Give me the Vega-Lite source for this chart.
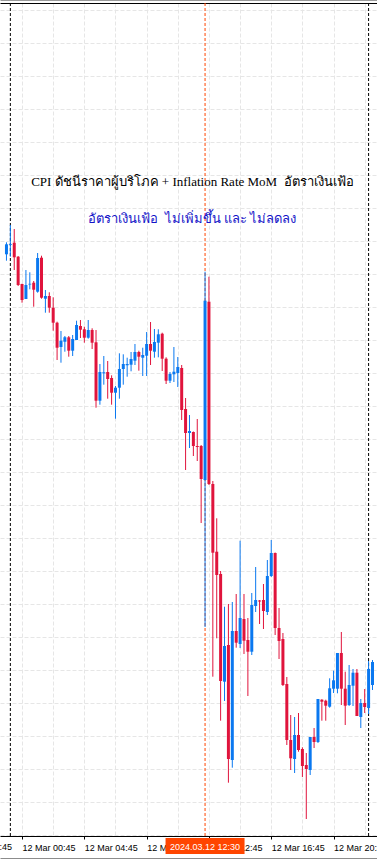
{
  "$schema": "https://vega.github.io/schema/vega-lite/v6.json",
  "width": 377,
  "height": 833,
  "autosize": {"type": "none"},
  "padding": {"left": 0, "right": 0, "top": 3, "bottom": 27},
  "background": "#ffffff",
  "config": {"view": {"stroke": null}},
  "datasets": {
    "bars": [
      {"t": "2024-03-11T23:45Z", "o": 2174.57, "h": 2175.77, "l": 2173.93, "c": 2175.57},
      {"t": "2024-03-12T00:00Z", "o": 2175.52, "h": 2177.5, "l": 2174.33, "c": 2175.6},
      {"t": "2024-03-12T00:15Z", "o": 2175.73, "h": 2177.1, "l": 2173.0, "c": 2174.27},
      {"t": "2024-03-12T00:30Z", "o": 2174.33, "h": 2174.4, "l": 2171.4, "c": 2171.5},
      {"t": "2024-03-12T00:45Z", "o": 2171.6, "h": 2171.63, "l": 2169.73, "c": 2170.0},
      {"t": "2024-03-12T01:00Z", "o": 2170.1, "h": 2173.0, "l": 2170.1, "c": 2171.5},
      {"t": "2024-03-12T01:15Z", "o": 2171.55, "h": 2172.77, "l": 2171.07, "c": 2171.62},
      {"t": "2024-03-12T01:30Z", "o": 2171.73, "h": 2171.9, "l": 2169.33, "c": 2171.03},
      {"t": "2024-03-12T01:45Z", "o": 2170.83, "h": 2174.7, "l": 2170.73, "c": 2174.2},
      {"t": "2024-03-12T02:00Z", "o": 2174.23, "h": 2174.43, "l": 2170.13, "c": 2170.23},
      {"t": "2024-03-12T02:15Z", "o": 2170.13, "h": 2171.0, "l": 2168.73, "c": 2170.4},
      {"t": "2024-03-12T02:30Z", "o": 2170.4, "h": 2170.77, "l": 2168.73, "c": 2169.23},
      {"t": "2024-03-12T02:45Z", "o": 2169.23, "h": 2170.27, "l": 2166.93, "c": 2167.73},
      {"t": "2024-03-12T03:00Z", "o": 2167.73, "h": 2167.83, "l": 2164.0, "c": 2165.23},
      {"t": "2024-03-12T03:15Z", "o": 2165.3, "h": 2166.9, "l": 2163.73, "c": 2165.93},
      {"t": "2024-03-12T03:30Z", "o": 2165.83, "h": 2166.4, "l": 2164.83, "c": 2166.27},
      {"t": "2024-03-12T03:45Z", "o": 2166.27, "h": 2166.4, "l": 2164.33, "c": 2164.93},
      {"t": "2024-03-12T04:00Z", "o": 2164.93, "h": 2166.5, "l": 2164.4, "c": 2166.1},
      {"t": "2024-03-12T04:15Z", "o": 2166.0, "h": 2167.93, "l": 2166.0, "c": 2167.5},
      {"t": "2024-03-12T04:30Z", "o": 2167.4, "h": 2168.0, "l": 2166.2, "c": 2167.03},
      {"t": "2024-03-12T04:45Z", "o": 2167.07, "h": 2167.33, "l": 2165.73, "c": 2166.23},
      {"t": "2024-03-12T05:00Z", "o": 2166.23, "h": 2168.0, "l": 2166.13, "c": 2167.0},
      {"t": "2024-03-12T05:15Z", "o": 2167.0, "h": 2167.17, "l": 2165.1, "c": 2165.73},
      {"t": "2024-03-12T05:30Z", "o": 2165.77, "h": 2167.0, "l": 2159.23, "c": 2159.93},
      {"t": "2024-03-12T05:45Z", "o": 2159.93, "h": 2163.6, "l": 2159.53, "c": 2162.8},
      {"t": "2024-03-12T06:00Z", "o": 2162.67, "h": 2164.4, "l": 2161.53, "c": 2162.77},
      {"t": "2024-03-12T06:15Z", "o": 2162.8, "h": 2163.9, "l": 2160.13, "c": 2162.1},
      {"t": "2024-03-12T06:30Z", "o": 2162.2, "h": 2162.47, "l": 2159.53, "c": 2160.73},
      {"t": "2024-03-12T06:45Z", "o": 2160.73, "h": 2161.4, "l": 2158.13, "c": 2161.23},
      {"t": "2024-03-12T07:00Z", "o": 2161.23, "h": 2164.67, "l": 2160.13, "c": 2163.1},
      {"t": "2024-03-12T07:15Z", "o": 2163.1, "h": 2164.57, "l": 2161.53, "c": 2163.6},
      {"t": "2024-03-12T07:30Z", "o": 2163.47, "h": 2164.23, "l": 2162.33, "c": 2163.6},
      {"t": "2024-03-12T07:45Z", "o": 2163.53, "h": 2164.8, "l": 2162.87, "c": 2164.1},
      {"t": "2024-03-12T08:00Z", "o": 2163.93, "h": 2165.6, "l": 2163.5, "c": 2164.8},
      {"t": "2024-03-12T08:15Z", "o": 2164.8, "h": 2164.93, "l": 2162.93, "c": 2164.33},
      {"t": "2024-03-12T08:30Z", "o": 2164.23, "h": 2165.23, "l": 2162.4, "c": 2164.5},
      {"t": "2024-03-12T08:45Z", "o": 2164.43, "h": 2166.8, "l": 2162.4, "c": 2165.6},
      {"t": "2024-03-12T09:00Z", "o": 2165.6, "h": 2167.8, "l": 2163.5, "c": 2164.93},
      {"t": "2024-03-12T09:15Z", "o": 2164.83, "h": 2167.1, "l": 2164.23, "c": 2165.8},
      {"t": "2024-03-12T09:30Z", "o": 2165.73, "h": 2167.07, "l": 2164.27, "c": 2166.57},
      {"t": "2024-03-12T09:45Z", "o": 2166.63, "h": 2166.73, "l": 2162.9, "c": 2164.13},
      {"t": "2024-03-12T10:00Z", "o": 2164.13, "h": 2164.27, "l": 2161.6, "c": 2161.93},
      {"t": "2024-03-12T10:15Z", "o": 2161.93, "h": 2162.8, "l": 2161.7, "c": 2162.6},
      {"t": "2024-03-12T10:30Z", "o": 2162.57, "h": 2165.3, "l": 2161.8, "c": 2162.83},
      {"t": "2024-03-12T10:45Z", "o": 2162.7, "h": 2164.3, "l": 2161.3, "c": 2163.3},
      {"t": "2024-03-12T11:00Z", "o": 2163.2, "h": 2163.5, "l": 2158.0, "c": 2159.0},
      {"t": "2024-03-12T11:15Z", "o": 2159.1, "h": 2160.2, "l": 2153.0, "c": 2156.7},
      {"t": "2024-03-12T11:30Z", "o": 2156.7, "h": 2158.5, "l": 2155.2, "c": 2156.9},
      {"t": "2024-03-12T11:45Z", "o": 2156.8, "h": 2156.85, "l": 2154.4, "c": 2155.4},
      {"t": "2024-03-12T12:00Z", "o": 2155.4, "h": 2158.1, "l": 2153.9, "c": 2155.3},
      {"t": "2024-03-12T12:15Z", "o": 2155.4, "h": 2155.5, "l": 2147.7, "c": 2152.1},
      {"t": "2024-03-12T12:30Z", "o": 2152.0, "h": 2172.83, "l": 2137.3, "c": 2169.93},
      {"t": "2024-03-12T12:45Z", "o": 2169.83, "h": 2172.33, "l": 2151.5, "c": 2151.6},
      {"t": "2024-03-12T13:00Z", "o": 2151.6, "h": 2151.9, "l": 2132.33, "c": 2144.73},
      {"t": "2024-03-12T13:15Z", "o": 2144.83, "h": 2148.17, "l": 2136.17, "c": 2142.5},
      {"t": "2024-03-12T13:30Z", "o": 2142.6, "h": 2142.9, "l": 2127.93, "c": 2131.9},
      {"t": "2024-03-12T13:45Z", "o": 2131.83, "h": 2139.33, "l": 2129.9, "c": 2135.4},
      {"t": "2024-03-12T14:00Z", "o": 2135.5, "h": 2139.6, "l": 2121.73, "c": 2124.1},
      {"t": "2024-03-12T14:15Z", "o": 2124.0, "h": 2139.8, "l": 2123.23, "c": 2136.9},
      {"t": "2024-03-12T14:30Z", "o": 2136.9, "h": 2140.6, "l": 2135.23, "c": 2135.73},
      {"t": "2024-03-12T14:45Z", "o": 2135.6, "h": 2145.93, "l": 2135.2, "c": 2138.2},
      {"t": "2024-03-12T15:00Z", "o": 2138.1, "h": 2140.6, "l": 2134.6, "c": 2135.93},
      {"t": "2024-03-12T15:15Z", "o": 2136.0, "h": 2138.2, "l": 2130.4, "c": 2134.83},
      {"t": "2024-03-12T15:30Z", "o": 2134.83, "h": 2140.7, "l": 2134.5, "c": 2139.5},
      {"t": "2024-03-12T15:45Z", "o": 2139.4, "h": 2143.3, "l": 2138.8, "c": 2140.0},
      {"t": "2024-03-12T16:00Z", "o": 2139.95, "h": 2140.0, "l": 2137.6, "c": 2139.85},
      {"t": "2024-03-12T16:15Z", "o": 2140.0, "h": 2141.6, "l": 2137.1, "c": 2138.9},
      {"t": "2024-03-12T16:30Z", "o": 2138.8, "h": 2144.0, "l": 2138.5, "c": 2142.4},
      {"t": "2024-03-12T16:45Z", "o": 2142.4, "h": 2146.0, "l": 2142.3, "c": 2144.7},
      {"t": "2024-03-12T17:00Z", "o": 2144.7, "h": 2144.75, "l": 2136.5, "c": 2137.2},
      {"t": "2024-03-12T17:15Z", "o": 2137.2, "h": 2139.2, "l": 2134.1, "c": 2135.9},
      {"t": "2024-03-12T17:30Z", "o": 2136.1, "h": 2136.7, "l": 2131.4, "c": 2131.5},
      {"t": "2024-03-12T17:45Z", "o": 2131.6, "h": 2132.3, "l": 2125.5, "c": 2126.0},
      {"t": "2024-03-12T18:00Z", "o": 2126.0, "h": 2128.5, "l": 2123.0, "c": 2124.17},
      {"t": "2024-03-12T18:15Z", "o": 2124.1, "h": 2128.3, "l": 2122.7, "c": 2126.5},
      {"t": "2024-03-12T18:30Z", "o": 2126.5, "h": 2128.7, "l": 2124.83, "c": 2125.0},
      {"t": "2024-03-12T18:45Z", "o": 2125.1, "h": 2125.27, "l": 2122.3, "c": 2123.4},
      {"t": "2024-03-12T19:00Z", "o": 2123.5, "h": 2124.7, "l": 2118.1, "c": 2123.1},
      {"t": "2024-03-12T19:15Z", "o": 2123.0, "h": 2126.3, "l": 2122.5, "c": 2126.3},
      {"t": "2024-03-12T19:30Z", "o": 2126.3, "h": 2127.2, "l": 2125.2, "c": 2125.8},
      {"t": "2024-03-12T19:45Z", "o": 2125.8, "h": 2130.1, "l": 2125.7, "c": 2130.1},
      {"t": "2024-03-12T20:00Z", "o": 2130.03, "h": 2130.08, "l": 2127.93, "c": 2129.83},
      {"t": "2024-03-12T20:15Z", "o": 2129.93, "h": 2130.03, "l": 2127.93, "c": 2129.43},
      {"t": "2024-03-12T20:30Z", "o": 2129.33, "h": 2132.17, "l": 2129.23, "c": 2131.17},
      {"t": "2024-03-12T20:45Z", "o": 2131.13, "h": 2132.93, "l": 2130.7, "c": 2131.97},
      {"t": "2024-03-12T21:00Z", "o": 2131.13, "h": 2134.7, "l": 2130.67, "c": 2134.7},
      {"t": "2024-03-12T21:15Z", "o": 2134.7, "h": 2136.8, "l": 2129.5, "c": 2131.13},
      {"t": "2024-03-12T21:30Z", "o": 2131.13, "h": 2132.83, "l": 2127.5, "c": 2129.43},
      {"t": "2024-03-12T21:45Z", "o": 2129.5, "h": 2133.5, "l": 2129.4, "c": 2131.5},
      {"t": "2024-03-12T22:00Z", "o": 2131.43, "h": 2133.1, "l": 2129.4, "c": 2132.73},
      {"t": "2024-03-12T22:15Z", "o": 2132.73, "h": 2133.1, "l": 2128.4, "c": 2128.4},
      {"t": "2024-03-12T22:30Z", "o": 2128.3, "h": 2130.1, "l": 2127.2, "c": 2129.7},
      {"t": "2024-03-12T22:45Z", "o": 2129.7, "h": 2131.1, "l": 2128.7, "c": 2129.3},
      {"t": "2024-03-12T23:00Z", "o": 2129.2, "h": 2133.9, "l": 2128.6, "c": 2133.1},
      {"t": "2024-03-12T23:15Z", "o": 2131.5, "h": 2134.0, "l": 2131.0, "c": 2133.8}
    ],
    "separators": [
      {"t": "2024-03-12T00:00Z"},
      {"t": "2024-03-12T23:00Z"}
    ],
    "event": [
      {"t": "2024-03-12T12:30Z", "label": "2024.03.12 12:30", "top": 2116.2, "bottom": 2114.6, "mid": 2115.35}
    ],
    "prevlabel": [
      {"t": "2024-03-11T20:45Z", "label": "11 Mar 20:45", "mid": 2115.3}
    ],
    "notes": [
      {"t": "2024-03-12T11:41:15Z", "p": 2181.4, "text": "CPI ดัชนีราคาผู้บริโภค + Inflation Rate MoM\u00a0 อัตราเงินเฟ้อ"},
      {"t": "2024-03-12T11:41:15Z", "p": 2177.7, "text": "อัตราเงินเฟ้อ\u00a0 ไม่เพิ่มขึ้น และ ไม่ลดลง"}
    ]
  },
  "resolve": {"axis": {"x": "independent", "y": "independent"}},
  "layer": [
    {
      "data": {"name": "separators"},
      "mark": {"type": "rule", "color": "#000000", "strokeWidth": 1, "strokeDash": [3, 2]},
      "encoding": {
        "x": {
          "field": "t", "type": "temporal",
          "scale": {"type": "utc", "nice": false,
            "domain": [
              {"year": 2024, "month": 3, "date": 11, "hours": 23, "minutes": 39, "seconds": 22, "milliseconds": 500, "utc": true},
              {"year": 2024, "month": 3, "date": 12, "hours": 23, "minutes": 13, "seconds": 7, "milliseconds": 500, "utc": true}
            ]},
          "axis": {"orient": "top", "labels": false, "ticks": false, "grid": false, "domain": true, "domainColor": "#000000", "domainWidth": 1, "title": null}
        }
      }
    },
    {
      "data": {"name": "event"},
      "mark": {"type": "rule", "color": "#FF4500", "strokeWidth": 1, "strokeDash": [3, 2]},
      "encoding": {
        "x": {"field": "t", "type": "temporal",
          "axis": {"orient": "bottom", "offset": 22, "labels": false, "ticks": false, "grid": false, "domain": true, "domainColor": "#8C8C8C", "domainWidth": 1, "title": null}}
      }
    },
    {
      "data": {"name": "bars"},
      "mark": {"type": "rule", "strokeWidth": 1},
      "encoding": {
        "x": {
          "field": "t", "type": "temporal",
          "axis": {
            "orient": "bottom",
            "values": [
              {"year": 2024, "month": 3, "date": 12, "hours": 0, "minutes": 45, "utc": true},
              {"year": 2024, "month": 3, "date": 12, "hours": 2, "minutes": 45, "utc": true},
              {"year": 2024, "month": 3, "date": 12, "hours": 4, "minutes": 45, "utc": true},
              {"year": 2024, "month": 3, "date": 12, "hours": 6, "minutes": 45, "utc": true},
              {"year": 2024, "month": 3, "date": 12, "hours": 8, "minutes": 45, "utc": true},
              {"year": 2024, "month": 3, "date": 12, "hours": 10, "minutes": 45, "utc": true},
              {"year": 2024, "month": 3, "date": 12, "hours": 12, "minutes": 45, "utc": true},
              {"year": 2024, "month": 3, "date": 12, "hours": 14, "minutes": 45, "utc": true},
              {"year": 2024, "month": 3, "date": 12, "hours": 16, "minutes": 45, "utc": true},
              {"year": 2024, "month": 3, "date": 12, "hours": 18, "minutes": 45, "utc": true},
              {"year": 2024, "month": 3, "date": 12, "hours": 20, "minutes": 45, "utc": true},
              {"year": 2024, "month": 3, "date": 12, "hours": 22, "minutes": 45, "utc": true}
            ],
            "labelExpr": "utchours(datum.value) % 4 == 0 ? utcFormat(datum.value, '%d %b %H:%M') : ''",
            "grid": true, "gridColor": "#E6E6E6", "gridDash": [4, 2], "gridWidth": 1,
            "ticks": true, "tickSize": 3, "tickColor": "#000000",
            "tickOpacity": {"condition": {"test": "utchours(datum.value) % 4 == 0", "value": 1}, "value": 0},
            "domain": true, "domainColor": "#000000",
            "labelAlign": "left", "labelBaseline": "middle", "labelPadding": 8,
            "labelFont": "Liberation Sans", "labelFontSize": 9, "labelColor": "#000000",
            "labelOverlap": false, "labelBound": false, "labelFlush": false,
            "title": null
          }
        },
        "y": {
          "field": "l", "type": "quantitative",
          "scale": {"domain": [2116.4, 2199.7], "nice": false, "zero": false},
          "axis": {
            "orient": "left",
            "values": [2199.0, 2195.7, 2192.4, 2189.1, 2185.8, 2182.5, 2179.2, 2175.9, 2172.6, 2169.3, 2166.0, 2162.7, 2159.4, 2156.1, 2152.8, 2149.5, 2146.2, 2142.9, 2139.6, 2136.3, 2133.0, 2129.7, 2126.4, 2123.1, 2119.8, 2116.5],
            "labels": false, "ticks": false, "domain": false,
            "grid": true, "gridColor": "#E6E6E6", "gridDash": [4, 2], "gridWidth": 1,
            "title": null
          }
        },
        "y2": {"field": "h"},
        "color": {"condition": {"test": "datum.c >= datum.o", "value": "#0A78F0"}, "value": "#E0143C"}
      }
    },
    {
      "data": {"name": "bars"},
      "mark": {"type": "bar", "size": 3},
      "encoding": {
        "x": {"field": "t", "type": "temporal", "axis": null},
        "y": {"field": "o", "type": "quantitative", "axis": null},
        "y2": {"field": "c"},
        "color": {"condition": {"test": "datum.c >= datum.o", "value": "#0A78F0"}, "value": "#E0143C"}
      }
    },
    {
      "data": {"name": "notes"},
      "transform": [{"filter": "datum.p > 2180"}],
      "mark": {"type": "text", "font": "Liberation Serif", "fontSize": 13, "color": "#000000", "align": "center", "baseline": "alphabetic"},
      "encoding": {
        "x": {"field": "t", "type": "temporal",
          "axis": {"orient": "top", "offset": 3, "labels": false, "ticks": false, "grid": false, "domain": true, "domainColor": "#9A9A9A", "domainWidth": 1, "title": null}},
        "y": {"field": "p", "type": "quantitative", "axis": null},
        "text": {"field": "text"}
      }
    },
    {
      "data": {"name": "notes"},
      "transform": [{"filter": "datum.p < 2180"}],
      "mark": {"type": "text", "font": "Liberation Serif", "fontSize": 13, "color": "#1414C8", "align": "center", "baseline": "alphabetic"},
      "encoding": {
        "x": {"field": "t", "type": "temporal", "axis": null},
        "y": {"field": "p", "type": "quantitative", "axis": null},
        "text": {"field": "text"}
      }
    },
    {
      "data": {"name": "prevlabel"},
      "mark": {"type": "text", "font": "Liberation Sans", "fontSize": 9, "color": "#000000", "align": "left", "baseline": "middle", "clip": false},
      "encoding": {
        "x": {"field": "t", "type": "temporal", "axis": null},
        "y": {"field": "mid", "type": "quantitative", "axis": null},
        "text": {"field": "label"}
      }
    },
    {
      "data": {"name": "event"},
      "mark": {"type": "bar", "size": 79, "color": "#FF4500", "clip": false},
      "encoding": {
        "x": {"field": "t", "type": "temporal", "axis": null},
        "y": {"field": "top", "type": "quantitative", "axis": null},
        "y2": {"field": "bottom"}
      }
    },
    {
      "data": {"name": "event"},
      "mark": {"type": "text", "font": "Liberation Sans", "fontSize": 9, "color": "#FFFFFF", "align": "center", "baseline": "middle", "clip": false},
      "encoding": {
        "x": {"field": "t", "type": "temporal", "axis": null},
        "y": {"field": "mid", "type": "quantitative", "axis": null},
        "text": {"field": "label"}
      }
    }
  ]
}
